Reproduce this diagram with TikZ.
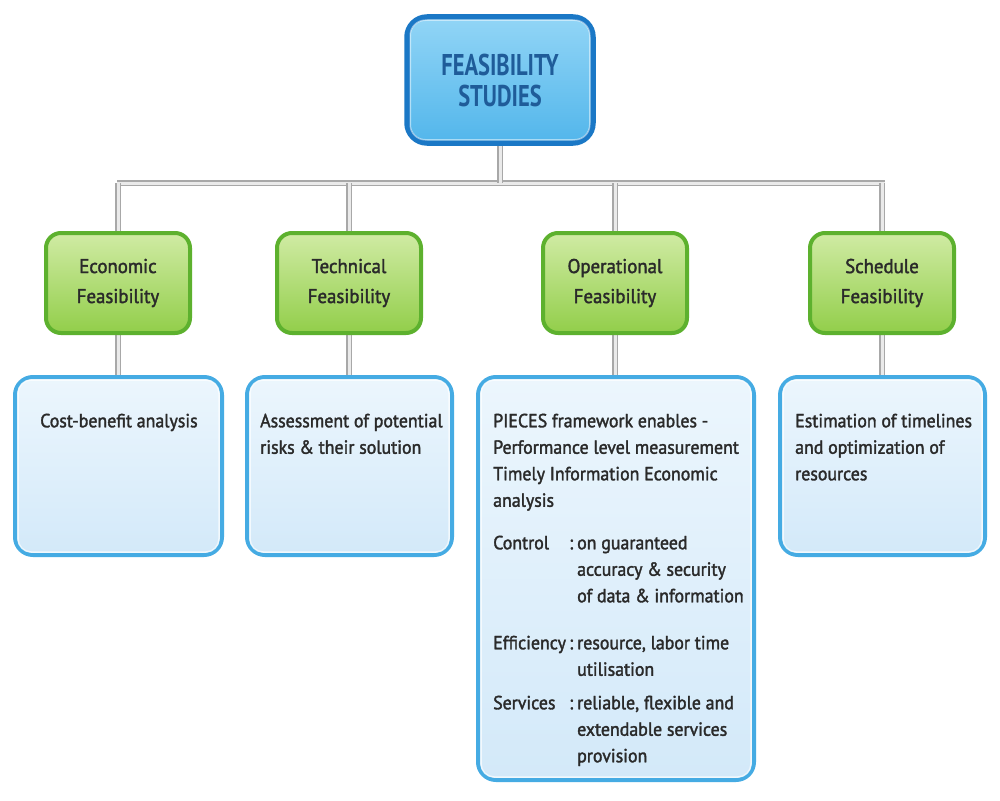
\documentclass[tikz,border=0pt]{standalone}
\usepackage{fontspec}
\setmainfont{PT Sans}[FakeStretch=0.94, FakeBold=1.8]
\newfontfamily\titlefont{PT Sans Bold}[FakeStretch=0.75]
\definecolor{topborder}{HTML}{1B78C6}
\definecolor{toptop}{HTML}{92D5F6}
\definecolor{topbot}{HTML}{52B6EB}
\definecolor{titlecol}{HTML}{1F5C99}
\definecolor{grnborder}{HTML}{5DB12E}
\definecolor{grntop}{HTML}{D0EBA4}
\definecolor{grnbot}{HTML}{92CE4A}
\definecolor{bluborder}{HTML}{45ABE3}
\definecolor{blutop}{HTML}{ECF6FD}
\definecolor{blubot}{HTML}{D3E9F9}
\definecolor{txt}{HTML}{2A2A2A}
\definecolor{stemout}{HTML}{A8A8A8}
\definecolor{stemin}{HTML}{EAEAEA}
\pgfdeclarelayer{bg}
\pgfdeclarelayer{edges}
\pgfsetlayers{bg,edges,main}
\begin{document}
\begin{tikzpicture}[x=1pt,y=-1pt,
  titlebox/.style={draw=topborder, line width=5.5pt, rounded corners=20pt, top color=toptop, bottom color=topbot,
    minimum width=186pt, minimum height=126pt, align=center, text=titlecol,
    font=\titlefont\fontsize{30}{31}\selectfont},
  grnbox/.style={draw=grnborder, line width=4pt, rounded corners=15pt, top color=grntop, bottom color=grnbot,
    minimum width=144pt, minimum height=100pt, align=center, text=txt,
    font=\fontsize{20}{30}\selectfont},
  blubox/.style={draw=bluborder, line width=4pt, rounded corners=18pt, top color=blutop, bottom color=blubot},
  bodytext/.style={anchor=north west, inner sep=0pt, text=txt, font=\fontsize{19}{26.5}\selectfont},
  stem/.style={draw=stemout, line width=1.8pt, double=stemin, double distance=3pt}
]
\begin{pgfonlayer}{bg}
\fill[white] (0,0) rectangle (1000,800);
\end{pgfonlayer}
\useasboundingbox (0,0) rectangle (1000,800);

% title
\node[titlebox] (top) at (500,80) {FEASIBILITY\\STUDIES};

% green boxes
\node[grnbox] (eco) at (118,283) {Economic\\Feasibility};
\node[grnbox] (tec) at (349,283) {Technical\\Feasibility};
\node[grnbox] (ope) at (615,283) {Operational\\Feasibility};
\node[grnbox] (sch) at (882,283) {Schedule\\Feasibility};

% blue boxes
\node[blubox, minimum width=207pt, minimum height=178pt] (b1) at (118.5,466) {};
\node[blubox, minimum width=205pt, minimum height=178pt] (b2) at (349.5,466) {};
\node[blubox, minimum width=276pt, minimum height=403pt] (b3) at (616,578.5) {};
\node[blubox, minimum width=205pt, minimum height=178pt] (b4) at (882.5,466) {};

% inner highlights
\foreach \b in {b1,b2,b3,b4}{
  \draw[white, opacity=0.7, line width=1.5pt, rounded corners=13pt]
    ([shift={(5,5)}]\b.north west) rectangle ([shift={(-5,-5)}]\b.south east);
}
\draw[white, opacity=0.5, line width=1.5pt, rounded corners=15pt]
    ([shift={(6,6)}]top.north west) rectangle ([shift={(-6,-6)}]top.south east);

% texts
\node[bodytext] (t1) at (40,408.5) {\begin{tabular}{@{}l@{}}Cost-benefit analysis\end{tabular}};
\node[bodytext] (t2) at (260,408.5) {\begin{tabular}{@{}l@{}}Assessment of potential\\risks \& their solution\end{tabular}};
\node[bodytext] (t3) at (493,408.5) {\begin{tabular}{@{}l@{}}PIECES framework enables -\\Performance level measurement\\Timely Information Economic\\analysis\end{tabular}};
\node[bodytext] (t3c) at (493,530.5) {\begin{tabular}{@{}p{76pt}@{}p{8pt}@{}l@{}}Control & : & on guaranteed\\ & & accuracy \& security\\ & & of data \& information\end{tabular}};
\node[bodytext] (t3e) at (493,630.5) {\begin{tabular}{@{}p{76pt}@{}p{8pt}@{}l@{}}Efficiency & : & resource, labor time\\ & & utilisation\end{tabular}};
\node[bodytext] (t3s) at (493,690.5) {\begin{tabular}{@{}p{76pt}@{}p{8pt}@{}l@{}}Services & : & reliable, flexible and\\ & & extendable services\\ & & provision\end{tabular}};
\node[bodytext] (t4) at (795,408.5) {\begin{tabular}{@{}l@{}}Estimation of timelines\\and optimization of\\resources\end{tabular}};

% connectors
\coordinate (barL) at (117,183);
\coordinate (barR) at (885,183);
\begin{pgfonlayer}{edges}
\draw[stem] (barL) -- (barR);
\draw[stem] (top.south) -- (top.south |- barL);
\foreach \g/\b in {eco/b1,tec/b2,ope/b3,sch/b4}{
  \draw[stem] (\g.north |- barL) -- (\g.north);
  \draw[stem] (\g.south) -- (\g.south |- \b.north);
}
\end{pgfonlayer}
\end{tikzpicture}
\end{document}
